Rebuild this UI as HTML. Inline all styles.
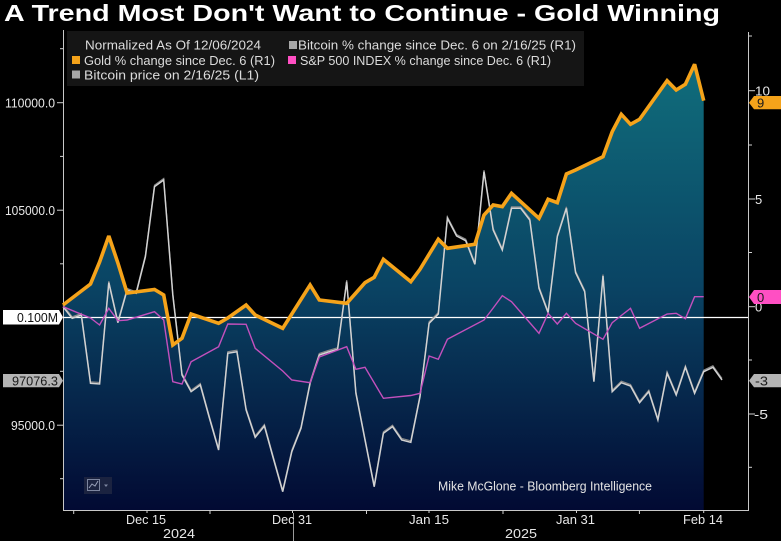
<!DOCTYPE html>
<html>
<head>
<meta charset="utf-8">
<style>
  html,body{margin:0;padding:0;background:#000;}
  svg{display:block;}
  text{font-family:"Liberation Sans",sans-serif;}
</style>
</head>
<body>
<svg width="781" height="541" viewBox="0 0 781 541" xmlns="http://www.w3.org/2000/svg">
  <defs>
    <linearGradient id="fillg" gradientUnits="userSpaceOnUse" x1="0" y1="60" x2="0" y2="510">
      <stop offset="0" stop-color="#106e7c"/>
      <stop offset="0.5" stop-color="#0a4464"/>
      <stop offset="1" stop-color="#020a33"/>
    </linearGradient>
  </defs>
  <rect x="0" y="0" width="781" height="541" fill="#000"/>

  <!-- Title -->
  <text x="4" y="21" font-size="23" font-weight="bold" fill="#ffffff" textLength="716" lengthAdjust="spacingAndGlyphs">A Trend Most Don't Want to Continue - Gold Winning</text>

  <!-- Gold fill area -->
  <polygon fill="url(#fillg)" points="63,510 63,305 90.5,284 99.6,262 108.8,236 117.9,263 127.1,293 154.5,289.5 163.7,295 172.8,345 182,338.3 191.1,314 218.6,323.3 227.8,318 246.1,305 255.2,315 282.7,328.3 291.8,314 310.1,285 319.3,300 346.7,303.3 355.9,293 365,282.7 374.2,277.3 383.4,259.3 410.8,281.7 420,269.3 429.1,254.3 438.3,239.3 447.4,248.3 474.9,244.3 484,215 493.2,205 502.3,206.7 511.5,193.3 539,218.3 548.1,199.3 557.3,202.7 566.4,174 575.6,170 603,156.7 612.2,131.7 621.3,114.3 630.5,124.3 639.6,119.3 667.1,80.7 676.2,90 685.4,84.3 694.6,64.3 703.7,100.7 703.7,510"/>

  <!-- Axes -->
  <line x1="63.5" y1="30" x2="63.5" y2="510.5" stroke="#c8c8c8" stroke-width="1"/>
  <line x1="748.5" y1="32" x2="748.5" y2="510.5" stroke="#c8c8c8" stroke-width="1"/>
  <line x1="63" y1="510.5" x2="749" y2="510.5" stroke="#c8c8c8" stroke-width="1"/>

  <!-- Left ticks -->
  <g stroke="#d0d0d0" stroke-width="1">
    <line x1="57" y1="102.7" x2="63" y2="102.7"/>
    <line x1="57" y1="210.2" x2="63" y2="210.2"/>
    <line x1="57" y1="425.2" x2="63" y2="425.2"/>
    <line x1="60" y1="48.7" x2="63" y2="48.7"/>
    <line x1="60" y1="156.4" x2="63" y2="156.4"/>
    <line x1="60" y1="263.8" x2="63" y2="263.8"/>
    <line x1="60" y1="371.3" x2="63" y2="371.3"/>
    <line x1="60" y1="478.7" x2="63" y2="478.7"/>
  </g>
  <g font-size="13" fill="#e8e8e8">
    <text x="5" y="107.5" textLength="50" lengthAdjust="spacingAndGlyphs">110000.0</text>
    <text x="5" y="215" textLength="50" lengthAdjust="spacingAndGlyphs">105000.0</text>
    <text x="11" y="430" textLength="44" lengthAdjust="spacingAndGlyphs">95000.0</text>
  </g>

  <!-- Right ticks -->
  <g stroke="#d0d0d0" stroke-width="1">
    <line x1="749" y1="90.7" x2="755" y2="90.7"/>
    <line x1="749" y1="199" x2="755" y2="199"/>
    <line x1="749" y1="306.7" x2="755" y2="306.7"/>
    <line x1="749" y1="414" x2="755" y2="414"/>
    <line x1="749" y1="36" x2="752" y2="36"/>
    <line x1="749" y1="145" x2="752" y2="145"/>
    <line x1="749" y1="252.5" x2="752" y2="252.5"/>
    <line x1="749" y1="360" x2="752" y2="360"/>
    <line x1="749" y1="467.3" x2="752" y2="467.3"/>
  </g>
  <g font-size="13" fill="#e8e8e8">
    <text x="755" y="95.5" textLength="15" lengthAdjust="spacingAndGlyphs">10</text>
    <text x="755" y="203.8">5</text>
    <text x="755" y="311.5">0</text>
    <text x="754" y="418.8" textLength="14" lengthAdjust="spacingAndGlyphs">-5</text>
  </g>

  <!-- Bottom ticks -->
  <g stroke="#d0d0d0" stroke-width="1">
    <line x1="73.7" y1="510" x2="73.7" y2="514"/>
    <line x1="147" y1="510" x2="147" y2="513"/>
    <line x1="210" y1="510" x2="210" y2="514"/>
    <line x1="292.5" y1="510" x2="292.5" y2="513"/>
    <line x1="366.5" y1="510" x2="366.5" y2="514"/>
    <line x1="429" y1="510" x2="429" y2="513"/>
    <line x1="503" y1="510" x2="503" y2="514"/>
    <line x1="576.5" y1="510" x2="576.5" y2="513"/>
    <line x1="639.4" y1="510" x2="639.4" y2="514"/>
    <line x1="703.7" y1="510" x2="703.7" y2="513"/>
  </g>
  <line x1="293.5" y1="513" x2="293.5" y2="541" stroke="#9a9a9a" stroke-width="1"/>
  <g font-size="13" fill="#e8e8e8">
    <text x="126" y="524" textLength="40" lengthAdjust="spacingAndGlyphs">Dec 15</text>
    <text x="272" y="524" textLength="40" lengthAdjust="spacingAndGlyphs">Dec 31</text>
    <text x="409" y="524" textLength="40" lengthAdjust="spacingAndGlyphs">Jan 15</text>
    <text x="556" y="524" textLength="39" lengthAdjust="spacingAndGlyphs">Jan 31</text>
    <text x="683" y="524" textLength="40" lengthAdjust="spacingAndGlyphs">Feb 14</text>
    <text x="163" y="538" textLength="32" lengthAdjust="spacingAndGlyphs">2024</text>
    <text x="505" y="538" textLength="32" lengthAdjust="spacingAndGlyphs">2025</text>
  </g>

  <!-- Reference white line -->
  <line x1="63" y1="317.5" x2="748" y2="317.5" stroke="#ffffff" stroke-width="1.2"/>

  <!-- Bitcoin price (L1) companion line -->
  <polyline fill="none" stroke="#8a8a8a" stroke-width="1.2" stroke-linejoin="miter" transform="translate(0,-1.5)" points="63,306.7 72.2,318.3 81.3,315 90.5,383.3 99.6,384 108.8,282.7 117.9,322.7 127.1,290 136.2,293.3 145.4,256.7 154.5,186.7 163.7,180 172.8,295 182,375 191.1,391.7 200.3,385 209.4,418 218.6,450 227.8,353.3 236.9,351.7 246.1,410 255.2,437.3 264.4,426 273.5,459 282.7,491.7 291.8,451.7 301,428.3 310.1,383.3 319.3,355 328.4,352 337.6,349.3 346.7,281.7 355.9,393.3 365,440 374.2,486.7 383.4,433.3 392.5,426.7 401.7,440 410.8,442.3 420,396.7 429.1,323.3 438.3,314 447.4,218.3 456.6,236 465.7,240.7 474.9,264.3 484,171.7 493.2,230 502.3,250 511.5,208.3 520.7,208.3 529.8,220 539,288.3 548.1,312.7 557.3,236.7 566.4,208.3 575.6,272.7 584.7,291.7 593.9,381.7 603,276 612.2,391.7 621.3,382.7 630.5,386 639.6,402.7 648.8,391.7 657.9,420 667.1,373.3 676.2,395 685.4,367.3 694.6,393.3 703.7,371.7 712.9,367.3 722,380"/>

  <!-- Bitcoin % change line -->
  <polyline fill="none" stroke="#d2d2d2" stroke-width="1.5" stroke-linejoin="miter" points="63,306.7 72.2,318.3 81.3,315 90.5,383.3 99.6,384 108.8,282.7 117.9,322.7 127.1,290 136.2,293.3 145.4,256.7 154.5,186.7 163.7,180 172.8,295 182,375 191.1,391.7 200.3,385 209.4,418 218.6,450 227.8,353.3 236.9,351.7 246.1,410 255.2,437.3 264.4,426 273.5,459 282.7,491.7 291.8,451.7 301,428.3 310.1,383.3 319.3,355 328.4,352 337.6,349.3 346.7,281.7 355.9,393.3 365,440 374.2,486.7 383.4,433.3 392.5,426.7 401.7,440 410.8,442.3 420,396.7 429.1,323.3 438.3,314 447.4,218.3 456.6,236 465.7,240.7 474.9,264.3 484,171.7 493.2,230 502.3,250 511.5,208.3 520.7,208.3 529.8,220 539,288.3 548.1,312.7 557.3,236.7 566.4,208.3 575.6,272.7 584.7,291.7 593.9,381.7 603,276 612.2,391.7 621.3,382.7 630.5,386 639.6,402.7 648.8,391.7 657.9,420 667.1,373.3 676.2,395 685.4,367.3 694.6,393.3 703.7,371.7 712.9,367.3 722,380"/>

  <!-- S&P 500 line -->
  <polyline fill="none" stroke="#c350bd" stroke-width="1.4" stroke-linejoin="miter" points="63,306.7 90.5,318 99.6,325 108.8,308.3 117.9,320.7 127.1,320 154.5,311.7 163.7,320 172.8,381.7 182,384 191.1,361.7 218.6,346.7 227.8,324 246.1,324.3 255.2,348.3 282.7,371 291.8,380 310.1,382.7 319.3,357 346.7,346.7 355.9,369.3 365,367.3 383.4,398.3 410.8,395.5 420,393.3 429.1,356 438.3,359.3 447.4,339.3 484,320 493.2,308 502.3,295.7 511.5,301.7 539,333.3 548.1,313.3 557.3,324 566.4,313.3 575.6,323.3 603,339.3 612.2,322.7 621.3,315.5 630.5,308.3 639.6,328.3 667.1,314 676.2,313.3 685.4,318.7 694.6,296.7 703.7,296.7"/>

  <!-- Gold line -->
  <polyline fill="none" stroke="#f5a31a" stroke-width="3.6" stroke-linejoin="miter" stroke-miterlimit="3" points="63,305 90.5,284 99.6,262 108.8,236 117.9,263 127.1,293 154.5,289.5 163.7,295 172.8,345 182,338.3 191.1,314 218.6,323.3 227.8,318 246.1,305 255.2,315 282.7,328.3 291.8,314 310.1,285 319.3,300 346.7,303.3 355.9,293 365,282.7 374.2,277.3 383.4,259.3 410.8,281.7 420,269.3 429.1,254.3 438.3,239.3 447.4,248.3 474.9,244.3 484,215 493.2,205 502.3,206.7 511.5,193.3 539,218.3 548.1,199.3 557.3,202.7 566.4,174 575.6,170 603,156.7 612.2,131.7 621.3,114.3 630.5,124.3 639.6,119.3 667.1,80.7 676.2,90 685.4,84.3 694.6,64.3 703.7,100.7"/>

  <!-- Legend -->
  <rect x="67" y="31" width="517" height="55" fill="#151515"/>
  <g font-size="13" fill="#dcdcdc">
    <text x="85" y="49.5" textLength="176" lengthAdjust="spacingAndGlyphs">Normalized As Of 12/06/2024</text>
    <rect x="289" y="41" width="8" height="8" fill="#a8a8a8"/>
    <text x="298" y="49.5" textLength="278" lengthAdjust="spacingAndGlyphs">Bitcoin % change since Dec. 6 on 2/16/25 (R1)</text>
    <rect x="72" y="56" width="8" height="8" fill="#f5a31a"/>
    <text x="84" y="65" textLength="191" lengthAdjust="spacingAndGlyphs">Gold % change since Dec. 6 (R1)</text>
    <rect x="288" y="56" width="8" height="8" fill="#ff4fc3"/>
    <text x="300" y="65" textLength="251" lengthAdjust="spacingAndGlyphs">S&amp;P 500 INDEX % change since Dec. 6 (R1)</text>
    <rect x="72" y="70.5" width="8" height="8" fill="#a8a8a8"/>
    <text x="84" y="79.5" textLength="175" lengthAdjust="spacingAndGlyphs">Bitcoin price on 2/16/25 (L1)</text>
  </g>

  <!-- Watermark text -->
  <text x="438" y="490.5" font-size="13" fill="#e4e4e4" textLength="214" lengthAdjust="spacingAndGlyphs">Mike McGlone - Bloomberg Intelligence</text>

  <!-- Icon -->
  <rect x="84" y="477" width="28" height="17" fill="#1b2340"/>
  <rect x="87.5" y="479.5" width="12" height="11" fill="none" stroke="#7d86a0" stroke-width="1"/>
  <polyline points="89,488 92,484 95,486 98,481" fill="none" stroke="#9aa2bb" stroke-width="1"/>
  <polygon points="104,484.5 108,484.5 106,487" fill="#7d86a0"/>

  <!-- Left tags -->
  <polygon points="3,310 59,310 63,317.3 59,324.5 3,324.5" fill="#ffffff"/>
  <text x="17" y="322" font-size="13" fill="#111" textLength="41" lengthAdjust="spacingAndGlyphs">0.100M</text>
  <polygon points="3,374 59,374 63,380.7 59,387.3 3,387.3" fill="#b4b4b4"/>
  <text x="12" y="385.5" font-size="13" fill="#1a1a1a" textLength="46" lengthAdjust="spacingAndGlyphs">97076.3</text>

  <!-- Right tags -->
  <polygon points="749,102.7 754,96 781,96 781,109.3 754,109.3" fill="#f5a31a"/>
  <text x="757" y="107.5" font-size="13" fill="#1a1a1a">9</text>
  <polygon points="749,297 754,290 781,290 781,304 754,304" fill="#ff4fc3"/>
  <text x="757" y="301.8" font-size="13" fill="#1a1a1a">0</text>
  <polygon points="749,380.7 754,374 781,374 781,387.3 754,387.3" fill="#b4b4b4"/>
  <text x="755" y="385.5" font-size="13" fill="#1a1a1a" textLength="13" lengthAdjust="spacingAndGlyphs">-3</text>
</svg>
</body>
</html>
